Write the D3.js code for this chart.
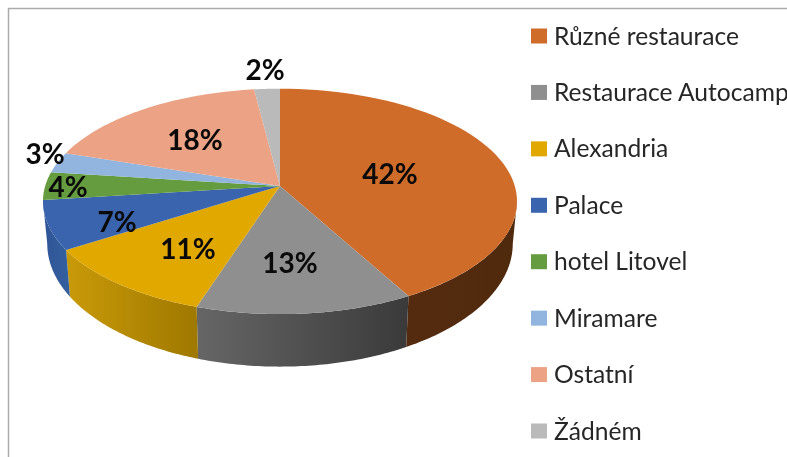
<!DOCTYPE html>
<html>
<head>
<meta charset="utf-8">
<script src="https://cdn.jsdelivr.net/npm/d3@7"></script>
<style>
  html, body { margin: 0; padding: 0; background: #fff; overflow: hidden; }
  svg { display: block; filter: blur(0.4px); }
  text { font-family: Lato, "Open Sans", sans-serif; }
</style>
</head>
<body>
<div id="chart"></div>
<script>
const categories = ["Různé restaurace", "Restaurace Autocamp", "Alexandria", "Palace", "hotel Litovel", "Miramare", "Ostatní", "Žádném"];
const shares = [42, 13, 11, 7, 4, 3, 18, 2];
const topColors = ["#cf6c29", "#8f8f8f", "#e1a800", "#3a64ad", "#659c3f", "#92b5e0", "#eca385", "#bababa"];
const wallFrom = ["#552b0f", "#666666", "#c99a08", "#2f5595", "#4e7a30", "#7090b8", "#b87f68", "#909090"];
const wallTo = ["#502a0d", "#3a3a3a", "#9f7800", "#34609f", "#4e7a30", "#7090b8", "#b87f68", "#909090"];

const WIDTH = 787;
const HEIGHT = 457;
const CX = 280;
const CY = 186;
// perspective of the tilted disc
const RX = 234.8;
const RY = 110.6;
const K = 0.1366;
const DEPTH = 41;
const DEPTH_Y = 1.09;
const DEPTH_X = 0.982;

// data label centres, placed by hand like the office chart does
const labelPos = [[390, 173], [290, 262], [188, 248], [117, 221], [68, 186], [45, 153], [195, 139], [265, 69]];

const svg = d3.select("#chart").append("svg")
  .attr("width", WIDTH)
  .attr("height", HEIGHT);

const defs = svg.append("defs");

// unit disc -> screen, a is clockwise from the top
function rim(a) {
  const u = Math.sin(a), v = -Math.cos(a), d = 1 - K * v;
  return [CX + RX * u / d, CY + RY * v / d];
}
function lowerRim(a) {
  const p = rim(a);
  return [CX + (p[0] - CX) * DEPTH_X, CY + (p[1] - CY) * DEPTH_Y + DEPTH];
}
function sample(a0, a1) {
  return d3.range(0, 61).map(i => a0 + (a1 - a0) * i / 60);
}

const line = d3.line();
const pie = d3.pie().sort(null).value(d => d);
const arcs = pie(shares);

// side wall only shows between the two silhouette points
const wallStart = Math.acos(-K);
const wallEnd = 2 * Math.PI - wallStart;

arcs.forEach((d, i) => {
  const a0 = Math.max(d.startAngle, wallStart);
  const a1 = Math.min(d.endAngle, wallEnd);
  if (a1 <= a0) return;
  const grad = defs.append("linearGradient").attr("id", "wall" + i);
  grad.append("stop").attr("offset", 0).attr("stop-color", wallFrom[i]);
  grad.append("stop").attr("offset", 1).attr("stop-color", wallTo[i]);
  const top = sample(a0, a1).map(rim);
  const low = sample(a0, a1).map(lowerRim).reverse();
  svg.append("path")
    .attr("d", line(top.concat(low)) + "Z")
    .attr("fill", "url(#wall" + i + ")");
});

svg.selectAll("path.slice")
  .data(arcs)
  .enter()
  .append("path")
  .attr("class", "slice")
  .attr("d", d => line([[CX, CY]].concat(sample(d.startAngle, d.endAngle).map(rim))) + "Z")
  .attr("fill", (d, i) => topColors[i]);

svg.selectAll("text.label")
  .data(shares)
  .enter()
  .append("text")
  .attr("class", "label")
  .attr("x", (d, i) => labelPos[i][0])
  .attr("y", (d, i) => labelPos[i][1])
  .attr("text-anchor", "middle")
  .attr("dominant-baseline", "central")
  .attr("font-size", 28)
  .attr("font-weight", 700)
  .attr("fill", "#0a0a0a")
  .text(d => d + "%");

// legend
const legendY = d3.scalePoint().domain(categories).range([36, 431]);
const legend = svg.selectAll("g.legend")
  .data(categories)
  .enter()
  .append("g")
  .attr("class", "legend")
  .attr("transform", d => "translate(531," + legendY(d) + ")");
legend.append("rect")
  .attr("y", -7.5)
  .attr("width", 16)
  .attr("height", 15)
  .attr("fill", (d, i) => topColors[i]);
legend.append("text")
  .attr("x", 23)
  .attr("y", -1)
  .attr("dominant-baseline", "central")
  .attr("font-size", 24.6)
  .attr("fill", "#262626")
  .text(d => d);

// frame of the chart, cropped on the right and at the bottom
svg.append("path")
  .attr("d", "M8.5," + HEIGHT + "V8.5H" + WIDTH)
  .attr("fill", "none")
  .attr("stroke", "#ababab")
  .attr("stroke-width", 1.5);
</script>
</body>
</html>
